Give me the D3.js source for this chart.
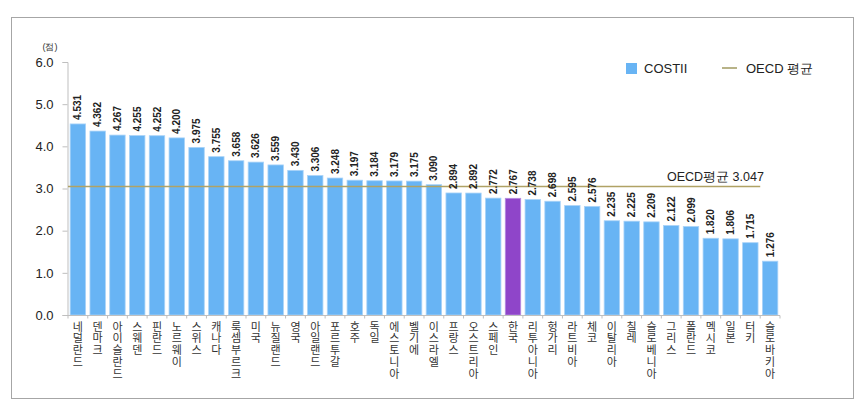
<!DOCTYPE html>
<html><head><meta charset="utf-8">
<script src="https://cdn.jsdelivr.net/npm/d3@7"></script>
<style>body{margin:0;background:#fff}svg{display:block}
.vlab{writing-mode:vertical-rl;text-orientation:upright;}</style>
</head><body><svg id="c" width="862" height="406"></svg>
<script>
const countries = ["네덜란드","덴마크","아이슬란드","스웨덴","핀란드","노르웨이","스위스","캐나다","룩셈부르크","미국","뉴질랜드","영국","아일랜드","포르투갈","호주","독일","에스토니아","벨기에","이스라엘","프랑스","오스트리아","스페인","한국","리투아니아","헝가리","라트비아","체코","이탈리아","칠레","슬로베니아","그리스","폴란드","멕시코","일본","터키","슬로바키아"];
const costii = [4.531,4.362,4.267,4.255,4.252,4.200,3.975,3.755,3.658,3.626,3.559,3.430,3.306,3.248,3.197,3.184,3.179,3.175,3.090,2.894,2.892,2.772,2.767,2.738,2.698,2.595,2.576,2.235,2.225,2.209,2.122,2.099,1.820,1.806,1.715,1.276];
const oecdAvg = 3.047;
const highlight = "한국";
const yTicks = [0,1,2,3,4,5,6];

const svg = d3.select("#c");
const font = "'Liberation Sans', Arial, sans-serif";
const narrow = "'Liberation Sans Narrow', 'Arial Narrow', 'Liberation Sans', sans-serif";

svg.append("rect").attr("x",11.5).attr("y",17.5).attr("width",842).attr("height",381)
  .attr("fill","#fff").attr("stroke","#a6a6a6").attr("stroke-width",1);

const x = d3.scaleBand().domain(countries).range([68,780]).paddingInner(0.22).paddingOuter(0.11);
const y = d3.scaleLinear().domain([0,6]).range([315,62]);

// y axis
const yAxis = svg.append("g").attr("transform","translate(67.5,0)")
  .call(d3.axisLeft(y).tickValues(yTicks).tickFormat(d3.format(".1f")).tickSizeOuter(0).tickSize(5));
yAxis.select(".domain").attr("stroke","#bfbfbf");
yAxis.selectAll(".tick line").attr("stroke","#bfbfbf");
yAxis.selectAll(".tick text").attr("font-family",font).attr("font-size",13).attr("fill","#222").attr("x",-14);

svg.append("text").attr("x",50).attr("y",50).attr("text-anchor","middle")
  .attr("font-family",font).attr("font-size",9).attr("fill","#333").text("(점)");

// bars
svg.append("g").selectAll("rect").data(countries).join("rect")
  .attr("x",d=>x(d)).attr("width",x.bandwidth())
  .attr("y",(d,i)=>y(costii[i])).attr("height",(d,i)=>y(0)-y(costii[i]))
  .attr("fill",d=>d===highlight?"#8f45c9":"#68b4f4")
  .attr("stroke",d=>d===highlight?"#b58ee0":"#a9d3f8").attr("stroke-width",0.8);

// x axis
const xAxis = svg.append("g").attr("transform","translate(0,315.5)");
xAxis.append("line").attr("x1",67).attr("x2",780).attr("stroke","#bfbfbf");
const step = x.step();
const bounds = countries.map(d=>x(d) - (step-x.bandwidth())/2).concat([780]);
xAxis.selectAll("line.t").data(bounds).join("line").attr("class","t")
  .attr("x1",d=>d).attr("x2",d=>d).attr("y1",0).attr("y2",3).attr("stroke","#bfbfbf");

// x labels: vertical upright text
svg.append("g").selectAll("text").data(countries).join("text")
  .attr("class","vlab")
  .attr("x",d=>x(d)+x.bandwidth()/2).attr("y",321)
  .attr("font-family","'Noto Sans CJK KR', sans-serif").attr("font-size",11)
  .attr("letter-spacing",0.8).attr("fill","#333")
  .text(d=>d);

// OECD line
svg.append("line").attr("x1",68).attr("x2",x(countries[countries.length-1]) - (step-x.bandwidth())/2)
  .attr("y1",y(oecdAvg)).attr("y2",y(oecdAvg)).attr("stroke","#b0a265").attr("stroke-width",1.5);
svg.append("text").attr("x",667).attr("y",y(oecdAvg)-6).attr("font-family",font).attr("font-size",12.5)
  .attr("fill","#222").text("OECD평균 3.047");

// value labels (rotated)
const vg = svg.append("g").selectAll("g").data(countries).join("g")
  .attr("transform",(d,i)=>"translate(" + (x(d)+x.bandwidth()/2+3.5) + "," + (y(costii[i])-4) + ")");
vg.append("text")
  .attr("transform","rotate(-90)")
  .attr("x",0).attr("y",0)
  .attr("font-family",narrow).attr("font-weight","bold").attr("font-size",10).attr("fill","#222")
  .text((d,i)=>d3.format(".3f")(costii[i]));

// legend
const lg = svg.append("g");
lg.append("rect").attr("x",626).attr("y",63).attr("width",11).attr("height",11).attr("fill","#68b4f4");
lg.append("text").attr("x",644).attr("y",73).attr("font-family",font).attr("font-size",13).attr("fill","#222").text("COSTII");
lg.append("line").attr("x1",722).attr("x2",737).attr("y1",68).attr("y2",68).attr("stroke","#a09a60").attr("stroke-width",1.5);
lg.append("text").attr("x",746).attr("y",73).attr("font-family",font).attr("font-size",13).attr("fill","#222").text("OECD 평균");
</script></body></html>
